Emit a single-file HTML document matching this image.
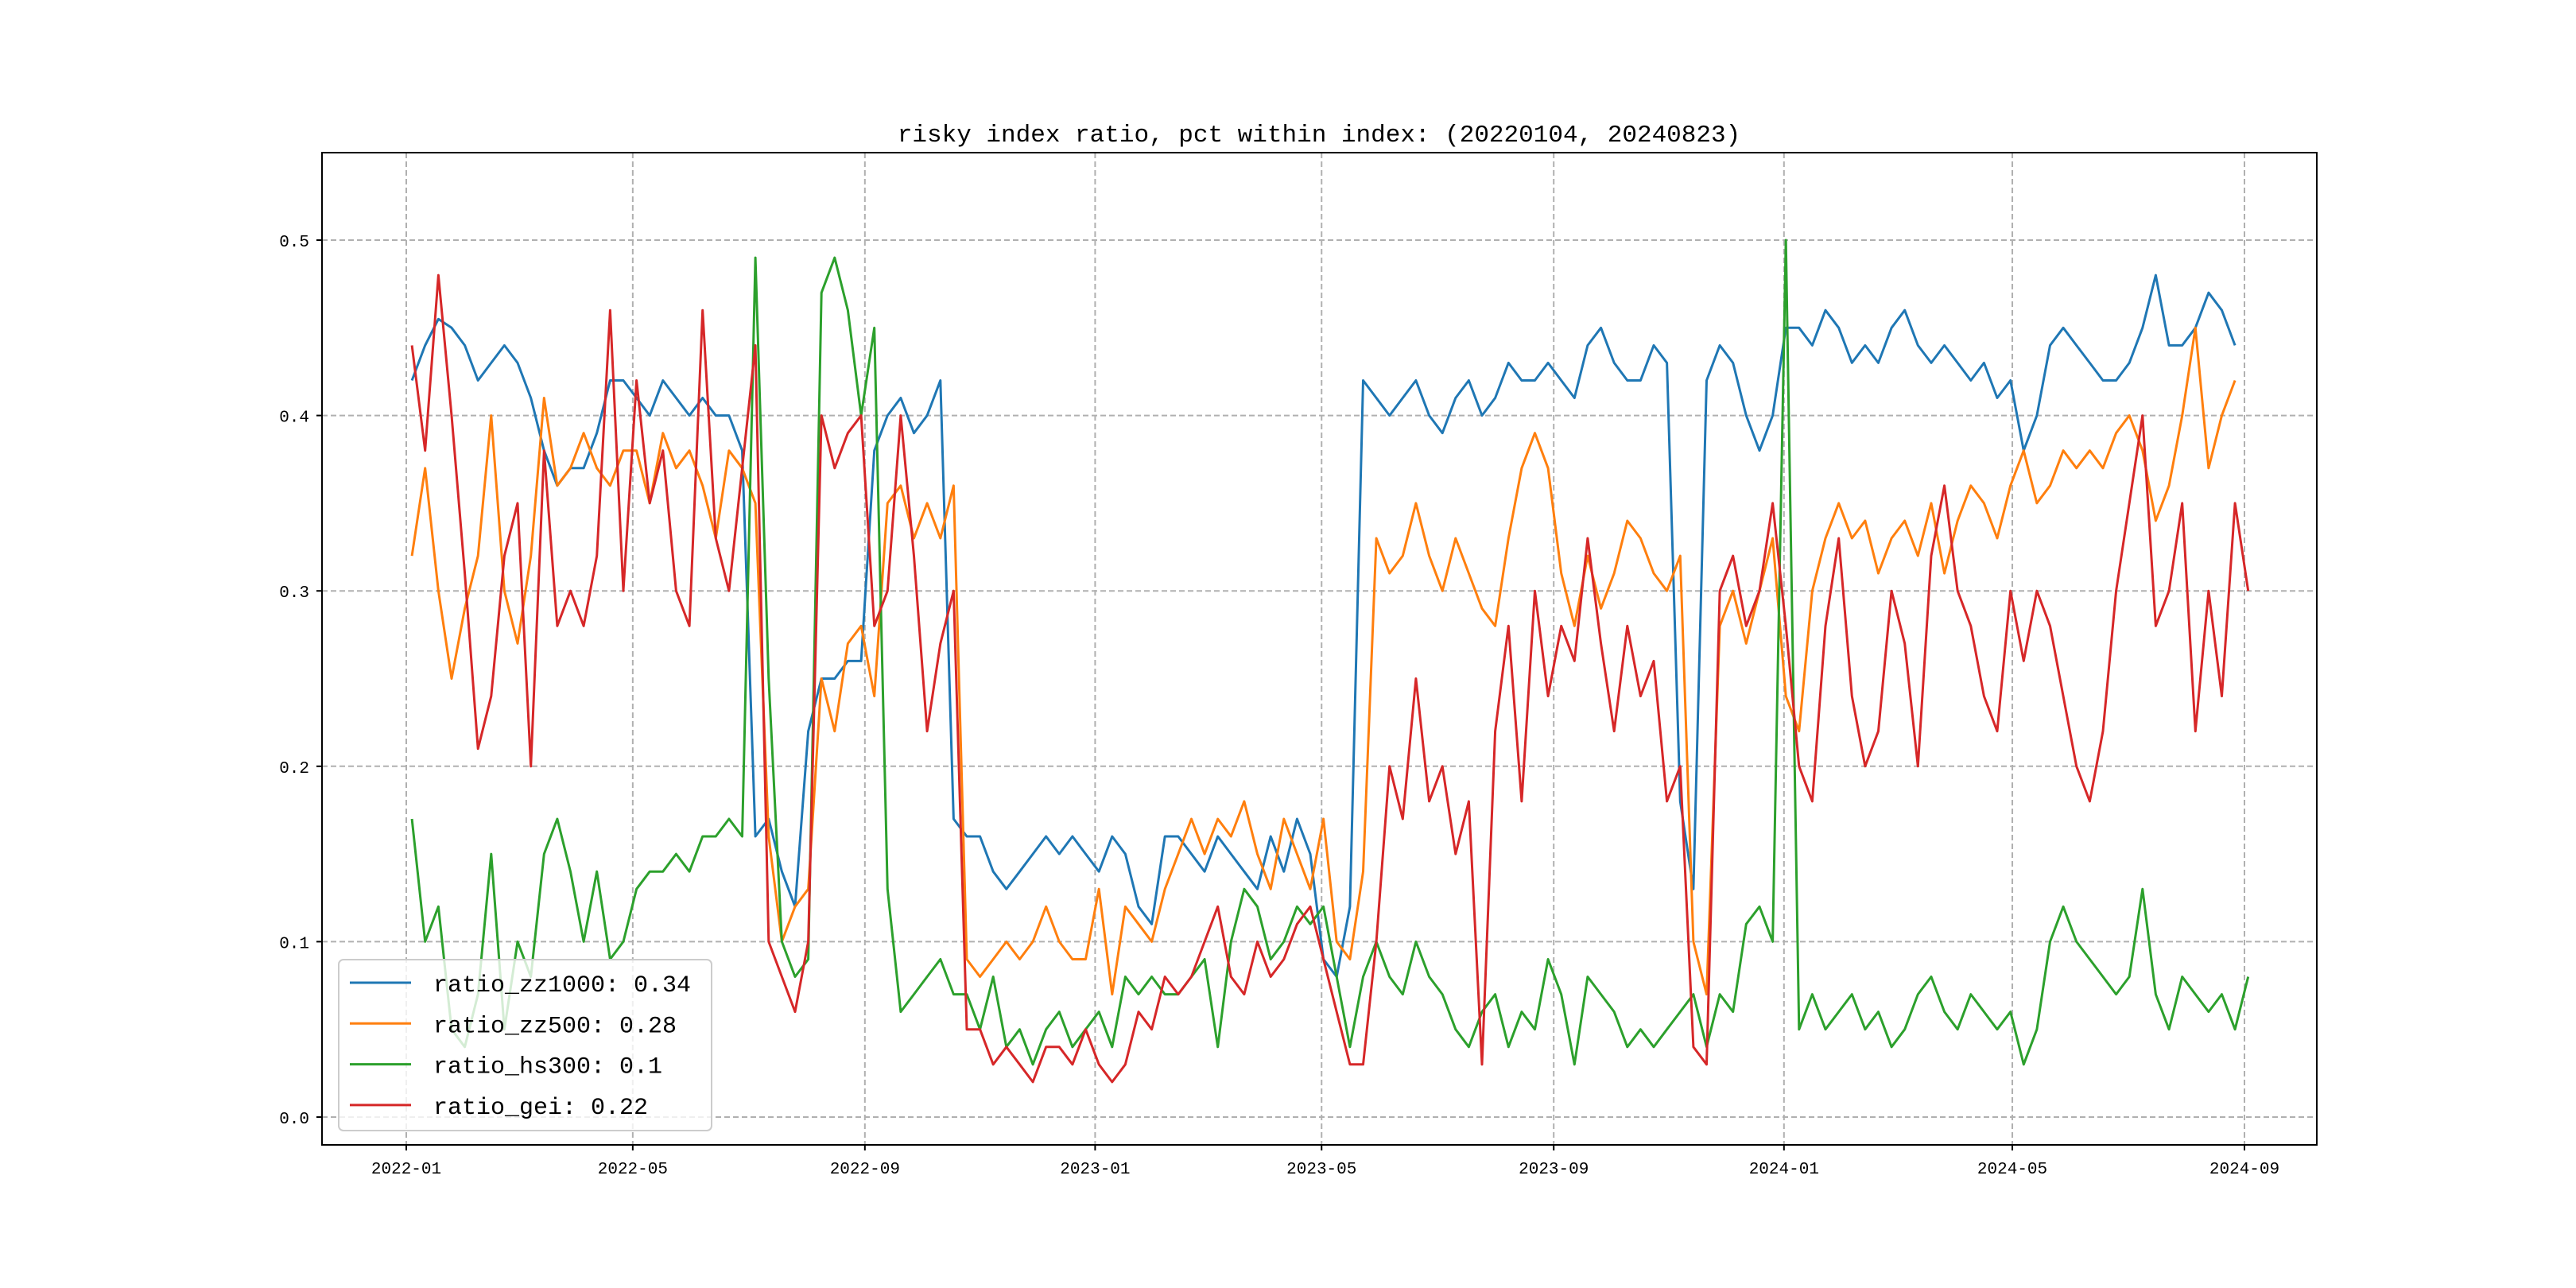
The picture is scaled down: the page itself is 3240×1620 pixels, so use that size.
<!DOCTYPE html>
<html><head><meta charset="utf-8"><style>
html,body{margin:0;padding:0;background:#fff;}
svg{display:block;font-family:"Liberation Mono","Noto Sans CJK SC",monospace;}
</style></head><body>
<svg id="chart" width="3240" height="1620" viewBox="0 0 3240 1620" xmlns="http://www.w3.org/2000/svg">
<rect width="3240" height="1620" fill="#fff"/>
<text x="1659" y="178" font-size="31" text-anchor="middle" fill="#000">risky index ratio, pct within index: (20220104, 20240823)</text>
<g id="grid"></g><g id="series"></g><g id="axes"></g>
<rect x="405" y="192" width="2509" height="1248" fill="none" stroke="#000" stroke-width="2"/>
<g id="legend"></g>
</svg>
<script>
const startDate = "2022-01-04";
const xTickLabels = ["2022-01","2022-05","2022-09","2023-01","2023-05","2023-09","2024-01","2024-05","2024-09"];
const yTicks = [0.0,0.1,0.2,0.3,0.4,0.5];
const seriesNames = ["ratio_zz1000: 0.34","ratio_zz500: 0.28","ratio_hs300: 0.1","ratio_gei: 0.22"];
const seriesColors = ["#1f77b4","#ff7f0e","#2ca02c","#d62728"];
const zz1000 = [0.42,0.44,0.455,0.45,0.44,0.42,0.43,0.44,0.43,0.41,0.38,0.36,0.37,0.37,0.39,0.42,0.42,0.41,0.40,0.42,0.41,0.40,0.41,0.40,0.40,0.38,0.16,0.17,0.14,0.12,0.22,0.25,0.25,0.26,0.26,0.38,0.40,0.41,0.39,0.40,0.42,0.17,0.16,0.16,0.14,0.13,0.14,0.15,0.16,0.15,0.16,0.15,0.14,0.16,0.15,0.12,0.11,0.16,0.16,0.15,0.14,0.16,0.15,0.14,0.13,0.16,0.14,0.17,0.15,0.09,0.08,0.12,0.42,0.41,0.40,0.41,0.42,0.40,0.39,0.41,0.42,0.40,0.41,0.43,0.42,0.42,0.43,0.42,0.41,0.44,0.45,0.43,0.42,0.42,0.44,0.43,0.18,0.13,0.42,0.44,0.43,0.40,0.38,0.40,0.45,0.45,0.44,0.46,0.45,0.43,0.44,0.43,0.45,0.46,0.44,0.43,0.44,0.43,0.42,0.43,0.41,0.42,0.38,0.40,0.44,0.45,0.44,0.43,0.42,0.42,0.43,0.45,0.48,0.44,0.44,0.45,0.47,0.46,0.44];
const zz500 = [0.32,0.37,0.30,0.25,0.29,0.32,0.40,0.30,0.27,0.32,0.41,0.36,0.37,0.39,0.37,0.36,0.38,0.38,0.35,0.39,0.37,0.38,0.36,0.33,0.38,0.37,0.35,0.16,0.10,0.12,0.13,0.25,0.22,0.27,0.28,0.24,0.35,0.36,0.33,0.35,0.33,0.36,0.09,0.08,0.09,0.10,0.09,0.10,0.12,0.10,0.09,0.09,0.13,0.07,0.12,0.11,0.10,0.13,0.15,0.17,0.15,0.17,0.16,0.18,0.15,0.13,0.17,0.15,0.13,0.17,0.10,0.09,0.14,0.33,0.31,0.32,0.35,0.32,0.30,0.33,0.31,0.29,0.28,0.33,0.37,0.39,0.37,0.31,0.28,0.32,0.29,0.31,0.34,0.33,0.31,0.30,0.32,0.10,0.07,0.28,0.30,0.27,0.30,0.33,0.24,0.22,0.30,0.33,0.35,0.33,0.34,0.31,0.33,0.34,0.32,0.35,0.31,0.34,0.36,0.35,0.33,0.36,0.38,0.35,0.36,0.38,0.37,0.38,0.37,0.39,0.40,0.38,0.34,0.36,0.40,0.45,0.37,0.40,0.42];
const hs300 = [0.17,0.10,0.12,0.05,0.04,0.07,0.15,0.05,0.10,0.08,0.15,0.17,0.14,0.10,0.14,0.09,0.10,0.13,0.14,0.14,0.15,0.14,0.16,0.16,0.17,0.16,0.49,0.25,0.10,0.08,0.09,0.47,0.49,0.46,0.40,0.45,0.13,0.06,0.07,0.08,0.09,0.07,0.07,0.05,0.08,0.04,0.05,0.03,0.05,0.06,0.04,0.05,0.06,0.04,0.08,0.07,0.08,0.07,0.07,0.08,0.09,0.04,0.10,0.13,0.12,0.09,0.10,0.12,0.11,0.12,0.08,0.04,0.08,0.10,0.08,0.07,0.10,0.08,0.07,0.05,0.04,0.06,0.07,0.04,0.06,0.05,0.09,0.07,0.03,0.08,0.07,0.06,0.04,0.05,0.04,0.05,0.06,0.07,0.04,0.07,0.06,0.11,0.12,0.10,0.50,0.05,0.07,0.05,0.06,0.07,0.05,0.06,0.04,0.05,0.07,0.08,0.06,0.05,0.07,0.06,0.05,0.06,0.03,0.05,0.10,0.12,0.10,0.09,0.08,0.07,0.08,0.13,0.07,0.05,0.08,0.07,0.06,0.07,0.05,0.08];
const gei = [0.44,0.38,0.48,0.40,0.31,0.21,0.24,0.32,0.35,0.20,0.38,0.28,0.30,0.28,0.32,0.46,0.30,0.42,0.35,0.38,0.30,0.28,0.46,0.33,0.30,0.37,0.44,0.10,0.08,0.06,0.10,0.40,0.37,0.39,0.40,0.28,0.30,0.40,0.32,0.22,0.27,0.30,0.05,0.05,0.03,0.04,0.03,0.02,0.04,0.04,0.03,0.05,0.03,0.02,0.03,0.06,0.05,0.08,0.07,0.08,0.10,0.12,0.08,0.07,0.10,0.08,0.09,0.11,0.12,0.09,0.06,0.03,0.03,0.10,0.20,0.17,0.25,0.18,0.20,0.15,0.18,0.03,0.22,0.28,0.18,0.30,0.24,0.28,0.26,0.33,0.27,0.22,0.28,0.24,0.26,0.18,0.20,0.04,0.03,0.30,0.32,0.28,0.30,0.35,0.28,0.20,0.18,0.28,0.33,0.24,0.20,0.22,0.30,0.27,0.20,0.32,0.36,0.30,0.28,0.24,0.22,0.30,0.26,0.30,0.28,0.24,0.20,0.18,0.22,0.30,0.35,0.40,0.28,0.30,0.35,0.22,0.30,0.24,0.35,0.30];

const NS="http://www.w3.org/2000/svg";
const L=405,R=2914,T=192,B=1440;
const TA=Date.parse("2022-01-01"), TB=Date.parse("2024-09-01");
function xScale(t){return 511+(t-TA)/(TB-TA)*(2823-511);}
function yScale(v){return 1405-v/0.5*(1405-302);}
function mk(tag,attrs,parent){const e=document.createElementNS(NS,tag);for(const k in attrs)e.setAttribute(k,attrs[k]);parent.appendChild(e);return e;}
const grid=document.getElementById('grid'),axes=document.getElementById('axes'),ser=document.getElementById('series'),leg=document.getElementById('legend');
xTickLabels.forEach(lbl=>{
  const x=xScale(Date.parse(lbl+"-01"));
  const g=mk('line',{x1:x,x2:x,y1:T,y2:B,stroke:'#b0b0b0','stroke-width':2,'stroke-dasharray':'7,4'},grid);
  
  
  const t=mk('line',{x1:x,x2:x,y1:B,y2:B+7,stroke:'#000','stroke-width':2},axes);
  
  
  const tx=mk('text',{x:x,y:B+36,'font-size':21,'text-anchor':'middle',fill:'#000'},axes);
  tx.textContent=lbl;
  
  
});
yTicks.forEach(v=>{
  const y=yScale(v);
  const g=mk('line',{x1:L,x2:R,y1:y,y2:y,stroke:'#b0b0b0','stroke-width':2,'stroke-dasharray':'7,4'},grid);
  
  
  const t=mk('line',{x1:L-7,x2:L,y1:y,y2:y,stroke:'#000','stroke-width':2},axes);
  
  
  const tx=mk('text',{x:L-16,y:y+8,'font-size':21,'text-anchor':'end',fill:'#000'},axes);
  tx.textContent=v.toFixed(1);
  
  
});
const t0=Date.parse(startDate), WEEK=7*86400000;
[zz1000,zz500,hs300,gei].forEach((arr,si)=>{
  const pts=arr.map((v,i)=>xScale(t0+i*WEEK).toFixed(1)+','+yScale(v).toFixed(1)).join(' ');
  const p=mk('polyline',{points:pts,fill:'none',stroke:seriesColors[si],'stroke-width':3,'stroke-linejoin':'round'},ser);
  
  
});
const box=mk('rect',{x:426,y:1207,width:469,height:215,rx:6,fill:'#fff','fill-opacity':0.8,stroke:'#ccc','stroke-width':2},leg);


seriesNames.forEach((n,i)=>{
  const y=1236+i*51.3;
  const l=mk('line',{x1:440,x2:517,y1:y,y2:y,stroke:seriesColors[i],'stroke-width':3},leg);
  
  
  const tx=mk('text',{x:545,y:y+11,'font-size':30,fill:'#000'},leg);
  tx.textContent=n;
  
  
});
</script>
</body></html>
